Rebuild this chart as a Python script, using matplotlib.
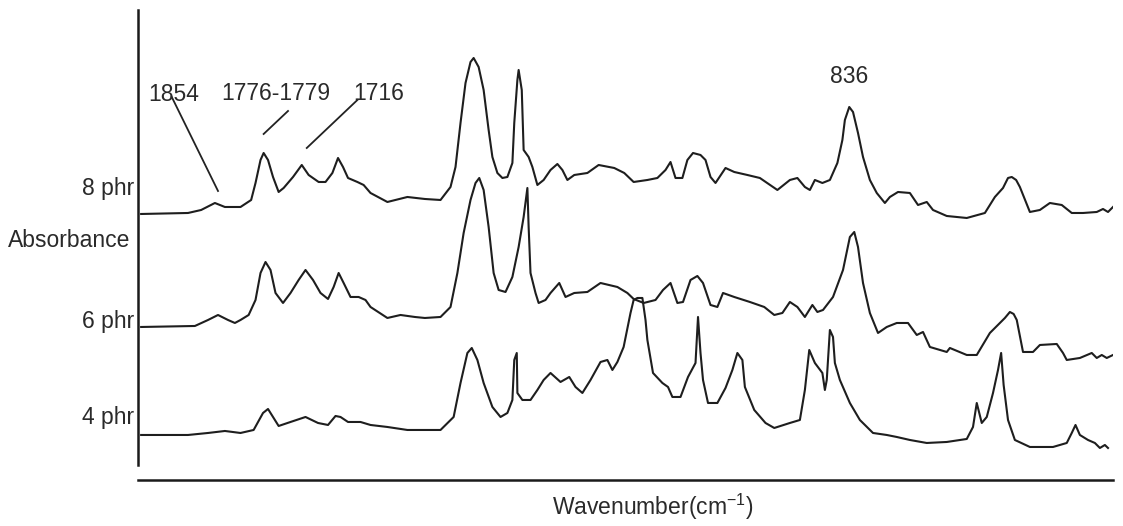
import matplotlib.pyplot as plt

plt.rcParams['font.family'] = ['Liberation Sans', 'DejaVu Sans']
plt.rcParams['mathtext.fontset'] = 'custom'
plt.rcParams['mathtext.rm'] = 'Liberation Sans'

# (wavenumber cm-1, absorbance above own baseline a.u.)
pts_8 = [(1974, 0.00), (1899, 0.01), (1878, 0.04), (1856, 0.11), (1840, 0.07), (1824, 0.07),
         (1815, 0.07), (1798, 0.14), (1791, 0.31), (1783, 0.54), (1778, 0.61), (1771, 0.54),
         (1763, 0.37), (1754, 0.22), (1746, 0.26), (1731, 0.37), (1717, 0.49), (1706, 0.39),
         (1690, 0.32), (1679, 0.32), (1668, 0.41), (1659, 0.56), (1651, 0.47), (1643, 0.36),
         (1628, 0.32), (1618, 0.29), (1607, 0.21), (1580, 0.12), (1548, 0.17), (1520, 0.15),
         (1495, 0.14), (1479, 0.27), (1471, 0.47), (1463, 0.91), (1455, 1.31), (1447, 1.52),
         (1442, 1.56), (1434, 1.47), (1426, 1.24), (1418, 0.84), (1412, 0.57), (1404, 0.41),
         (1396, 0.36), (1388, 0.37), (1380, 0.51), (1377, 0.91), (1372, 1.34), (1370, 1.44),
         (1365, 1.24), (1362, 0.64), (1354, 0.57), (1348, 0.47), (1340, 0.29), (1330, 0.34),
         (1319, 0.44), (1308, 0.50), (1300, 0.44), (1292, 0.34), (1281, 0.39), (1260, 0.41),
         (1242, 0.49), (1217, 0.46), (1201, 0.41), (1186, 0.32), (1164, 0.34), (1148, 0.36),
         (1135, 0.44), (1127, 0.52), (1119, 0.36), (1108, 0.36), (1100, 0.54), (1091, 0.61),
         (1079, 0.59), (1071, 0.54), (1063, 0.37), (1055, 0.31), (1039, 0.46), (1025, 0.42),
         (1004, 0.39), (984, 0.36), (956, 0.24), (936, 0.34), (924, 0.36), (912, 0.27),
         (904, 0.24), (896, 0.34), (884, 0.31), (872, 0.34), (860, 0.51), (852, 0.74),
         (848, 0.94), (841, 1.07), (835, 1.02), (827, 0.81), (819, 0.57), (808, 0.34),
         (797, 0.21), (784, 0.11), (776, 0.17), (763, 0.22), (744, 0.21), (731, 0.09),
         (717, 0.12), (707, 0.04), (685, -0.02), (653, -0.04), (624, 0.01), (608, 0.17),
         (595, 0.26), (587, 0.36), (581, 0.37), (574, 0.34), (568, 0.27), (552, 0.02),
         (536, 0.04), (520, 0.11), (501, 0.09), (485, 0.01), (467, 0.01), (445, 0.02),
         (435, 0.05), (427, 0.02), (419, 0.07)]

pts_6 = [(1974, 0.00), (1888, 0.01), (1867, 0.07), (1851, 0.12), (1835, 0.07), (1824, 0.04),
         (1815, 0.07), (1802, 0.12), (1791, 0.27), (1783, 0.54), (1775, 0.65), (1767, 0.57),
         (1759, 0.34), (1747, 0.24), (1735, 0.34), (1722, 0.47), (1711, 0.57), (1699, 0.47),
         (1687, 0.34), (1675, 0.28), (1666, 0.40), (1658, 0.54), (1650, 0.44), (1639, 0.30),
         (1626, 0.30), (1615, 0.27), (1607, 0.20), (1580, 0.09), (1559, 0.12), (1536, 0.10),
         (1520, 0.09), (1495, 0.10), (1479, 0.20), (1468, 0.54), (1458, 0.94), (1447, 1.27),
         (1439, 1.44), (1433, 1.49), (1426, 1.37), (1418, 1.00), (1410, 0.54), (1402, 0.37),
         (1391, 0.35), (1380, 0.50), (1370, 0.80), (1362, 1.10), (1356, 1.39), (1354, 1.00),
         (1351, 0.54), (1343, 0.34), (1338, 0.24), (1327, 0.27), (1319, 0.34), (1305, 0.44),
         (1295, 0.30), (1281, 0.34), (1260, 0.35), (1239, 0.44), (1212, 0.40), (1196, 0.34),
         (1186, 0.28), (1170, 0.24), (1151, 0.27), (1139, 0.37), (1127, 0.44), (1116, 0.24),
         (1107, 0.25), (1095, 0.47), (1084, 0.51), (1075, 0.44), (1063, 0.22), (1052, 0.20),
         (1043, 0.34), (1025, 0.30), (1000, 0.25), (977, 0.20), (961, 0.12), (948, 0.14),
         (936, 0.25), (924, 0.20), (912, 0.10), (900, 0.22), (892, 0.15), (883, 0.17),
         (867, 0.30), (851, 0.57), (840, 0.90), (833, 0.95), (827, 0.80), (819, 0.44),
         (808, 0.14), (795, -0.06), (781, 0.00), (765, 0.04), (747, 0.04), (733, -0.08),
         (723, -0.05), (712, -0.20), (685, -0.25), (680, -0.21), (653, -0.28), (637, -0.28),
         (616, -0.06), (600, 0.04), (592, 0.09), (584, 0.15), (578, 0.13), (573, 0.07),
         (563, -0.25), (547, -0.25), (536, -0.18), (509, -0.17), (499, -0.26), (493, -0.33),
         (472, -0.31), (453, -0.26), (445, -0.31), (437, -0.28), (429, -0.31), (419, -0.28)]

pts_4 = [(1974, 0.00), (1899, 0.00), (1867, 0.02), (1840, 0.04), (1815, 0.02), (1794, 0.05),
         (1779, 0.22), (1771, 0.26), (1763, 0.18), (1754, 0.09), (1735, 0.13), (1711, 0.18),
         (1691, 0.12), (1675, 0.10), (1663, 0.19), (1655, 0.18), (1643, 0.13), (1623, 0.13),
         (1607, 0.10), (1580, 0.08), (1548, 0.05), (1520, 0.05), (1495, 0.05), (1474, 0.18),
         (1463, 0.52), (1452, 0.82), (1445, 0.87), (1436, 0.75), (1426, 0.52), (1412, 0.28),
         (1399, 0.18), (1388, 0.22), (1380, 0.35), (1377, 0.75), (1373, 0.82), (1372, 0.42),
         (1364, 0.35), (1351, 0.35), (1340, 0.45), (1330, 0.55), (1319, 0.62), (1303, 0.53),
         (1289, 0.58), (1279, 0.48), (1268, 0.42), (1255, 0.55), (1239, 0.73), (1228, 0.75),
         (1220, 0.65), (1212, 0.73), (1202, 0.88), (1191, 1.22), (1186, 1.35), (1180, 1.37),
         (1172, 1.37), (1167, 1.15), (1164, 0.95), (1155, 0.62), (1140, 0.52), (1131, 0.48),
         (1124, 0.38), (1111, 0.38), (1099, 0.58), (1087, 0.72), (1083, 1.18), (1079, 0.82),
         (1075, 0.55), (1067, 0.32), (1052, 0.32), (1039, 0.47), (1028, 0.65), (1020, 0.82),
         (1012, 0.75), (1008, 0.48), (993, 0.25), (975, 0.12), (961, 0.07), (936, 0.12),
         (920, 0.15), (912, 0.45), (905, 0.85), (896, 0.72), (884, 0.62), (880, 0.45),
         (877, 0.55), (872, 1.05), (867, 0.98), (864, 0.72), (856, 0.55), (840, 0.32),
         (824, 0.15), (803, 0.02), (781, 0.00), (765, -0.02), (744, -0.05), (717, -0.08),
         (685, -0.07), (653, -0.04), (643, 0.08), (637, 0.32), (629, 0.12), (621, 0.18),
         (611, 0.42), (603, 0.65), (598, 0.82), (594, 0.50), (587, 0.15), (576, -0.05),
         (552, -0.12), (515, -0.12), (493, -0.08), (485, 0.02), (479, 0.10), (472, 0.00),
         (459, -0.05), (448, -0.08), (440, -0.13), (432, -0.10), (427, -0.13)]

labels = ['8 phr', '6 phr', '4 phr']
offsets = [2.21, 1.08, 0.0]

peak_labels = ['1854', '1776-1779', '1716', '836']
peak_text_pos = [(1922, 3.34), (1758, 3.35), (1594, 3.35), (841, 3.52)]
peak_lines = [[(1925, 3.38), (1851, 2.44)],
              [(1739, 3.24), (1778, 3.01)],
              [(1628, 3.35), (1709, 2.87)],
              None]

fig = plt.figure(figsize=(11.23, 5.26), dpi=100)
ax = fig.add_axes([0.1229, 0.0875, 0.8682, 0.8935])

for pts, off in zip([pts_8, pts_6, pts_4], offsets):
    x = [p[0] for p in pts]
    y = [p[1] + off for p in pts]
    ax.plot(x, y, color='#1e1e1e', lw=1.5, solid_joinstyle='round')

ax.set_xlim(1979, 419)
ax.set_ylim(-0.45, 4.25)

for s in ['top', 'right']:
    ax.spines[s].set_visible(False)
ax.spines['left'].set_bounds(-0.30, 4.25)
for s in ['left', 'bottom']:
    ax.spines[s].set_linewidth(1.8)
    ax.spines[s].set_color('#1a1a1a')
ax.set_xticks([])
ax.set_yticks([])

txt_kw = dict(fontsize=16.5, color='#2a2a2a')
for lab, (x, y) in zip(peak_labels, peak_text_pos):
    ax.text(x, y, lab, ha='center', va='baseline', **txt_kw)
for seg in peak_lines:
    if seg:
        ax.plot([seg[0][0], seg[1][0]], [seg[0][1], seg[1][1]], color='#222222', lw=1.3)

# side labels
fig.text(134 / 1123, 1 - 195 / 526, labels[0], ha='right', va='baseline', **txt_kw)
fig.text(130 / 1123, 1 - 247 / 526, 'Absorbance', ha='right', va='baseline', **txt_kw)
fig.text(134 / 1123, 1 - 328 / 526, labels[1], ha='right', va='baseline', **txt_kw)
fig.text(134 / 1123, 1 - 424 / 526, labels[2], ha='right', va='baseline', **txt_kw)
fig.text(653 / 1123, 1 - 515 / 526, r'Wavenumber(cm$^{\mathregular{-1}}$)',
         ha='center', va='baseline', **txt_kw)

fig.savefig('out.png', dpi=100, facecolor='white')
